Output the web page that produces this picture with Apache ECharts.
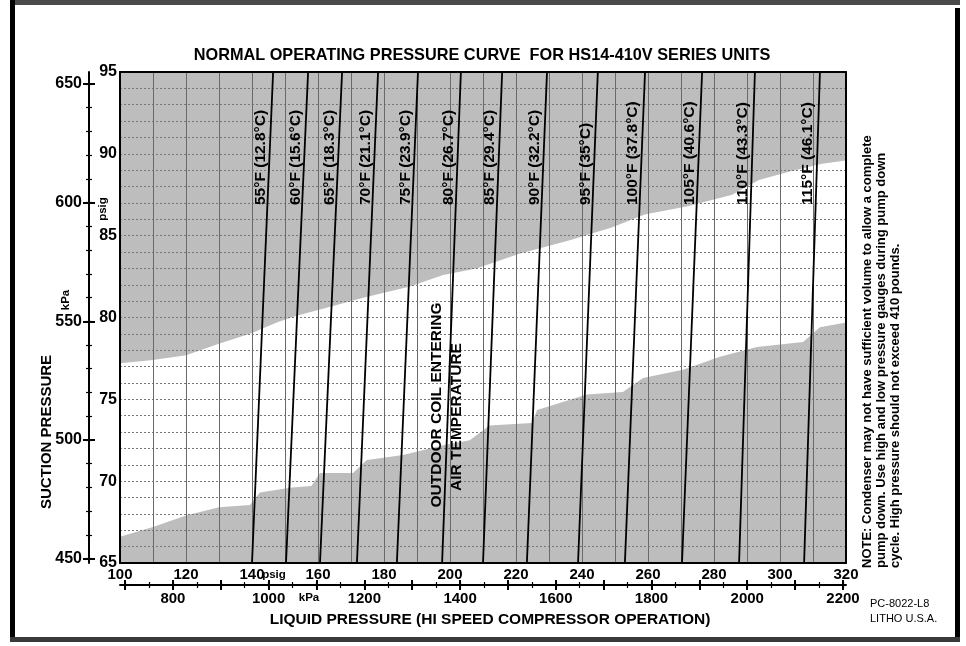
<!DOCTYPE html>
<html><head><meta charset="utf-8">
<script src="https://cdn.jsdelivr.net/npm/echarts@6/dist/echarts.min.js"></script>
<style>html,body{margin:0;padding:0;background:#fff}#c{width:966px;height:646px}</style>
</head><body><div id="c"></div>
<script>
// ---------- data ----------
const KPA_PER_PSI = 6.894757;
const chartTitle = 'NORMAL OPERATING PRESSURE CURVE  FOR HS14-410V SERIES UNITS';
const suctionRange = [65, 95];      // psig (y)
const liquidRange = [100, 320];     // psig (x)

const tempF = [55, 60, 65, 70, 75, 80, 85, 90, 95, 100, 105, 110, 115];
const tempC = ['12.8', '15.6', '18.3', '21.1', '23.9', '26.7', '29.4', '32.2', '35', '37.8', '40.6', '43.3', '46.1'];
// liquid pressure (psig) of each temperature line at suction 65 psig and at 95 psig
const liquidAtLowSuction  = [140.0, 150.3, 160.6, 171.8, 183.9, 197.6, 210.0, 223.3, 238.8, 253.0, 270.3, 287.6, 307.3];
const liquidAtHighSuction = [146.4, 157.0, 167.3, 178.2, 190.3, 203.3, 215.8, 229.4, 244.8, 259.1, 276.4, 292.4, 312.1];

// upper edge of the normal band (grey above it)
const upperLiquid  = [100, 110, 120, 130, 140, 147.5, 153.5, 162.6, 173.7, 187.9, 197.9, 208, 221, 236, 249, 259, 272, 285.5, 293.6, 302.7, 312.7, 320];
const upperSuction = [77.2, 77.4, 77.7, 78.4, 79.05, 79.7, 80.1, 80.6, 81.2, 81.9, 82.6, 83.0, 83.9, 84.7, 85.5, 86.3, 86.8, 87.5, 88.4, 88.9, 89.4, 89.6];
// lower edge of the normal band (grey below it)
const lowerLiquid  = [100, 110, 120, 130, 139.4, 142.4, 151.5, 158, 160.6, 170.6, 174.8, 185.8, 197.9, 206, 212, 224.8, 226.4, 241.5, 252.4, 258.5, 270.6, 281.8, 293, 307, 312.1, 320];
const lowerSuction = [66.6, 67.2, 67.9, 68.4, 68.55, 69.3, 69.6, 69.7, 70.5, 70.5, 71.3, 71.6, 72.2, 72.5, 73.4, 73.55, 74.35, 75.3, 75.45, 76.3, 76.8, 77.6, 78.2, 78.5, 79.4, 79.7];

// tick labels
const xPsigLabels = [100, 120, 140, 160, 180, 200, 220, 240, 260, 280, 300, 320];
const xKpaLabels = [800, 1000, 1200, 1400, 1600, 1800, 2000, 2200];
const yPsigLabels = [65, 70, 75, 80, 85, 90, 95];
const yKpaLabels = [450, 500, 550, 600, 650];

const noteLines = [
  'NOTE: Condenser may not have sufficient volume to allow a complete',
  'pump down. Use high and low pressure gauges during pump down',
  'cycle. High pressure should not exceed 410 pounds.'
];

// ---------- build ----------
const FONT = '"Liberation Sans", Arial, Helvetica, sans-serif';
const GRAY = '#bdbdbd';
function range(a, b, s) { const r = []; for (let v = a; v <= b + 1e-9; v += s) r.push(v); return r; }
const xKpaMajor = range(700, 2200, 100);
const xKpaMinor = range(700, 2200, 50);
const yKpaMajor = range(450, 650, 50);
const yKpaMinor = range(450, 650, 10);
const xKpaMin = liquidRange[0] * KPA_PER_PSI, xKpaMax = liquidRange[1] * KPA_PER_PSI;
const yKpaMin = suctionRange[0] * KPA_PER_PSI, yKpaMax = suctionRange[1] * KPA_PER_PSI;
const plain = (v) => String(Math.round(v));

const lbl = (size) => ({ fontFamily: FONT, fontWeight: 'bold', fontSize: size, color: '#000' });

function kpaX(extra) {
  return Object.assign({
    type: 'value', min: xKpaMin, max: xKpaMax, position: 'bottom', offset: 22, z: 3,
    splitLine: { show: false }, axisLine: { show: false, onZero: false },
    axisLabel: { show: false }, axisTick: { show: false }
  }, extra);
}
function kpaY(extra) {
  return Object.assign({
    type: 'value', min: yKpaMin, max: yKpaMax, position: 'left', offset: 31, z: 3,
    splitLine: { show: false }, axisLine: { show: false, onZero: false },
    axisLabel: { show: false }, axisTick: { show: false }
  }, extra);
}
const tickStyle = (w) => ({ color: '#000', width: w });

const xAxis = [
  { type: 'value', min: liquidRange[0], max: liquidRange[1], interval: 10, position: 'bottom', z: 3,
    axisLine: { show: true, onZero: false, lineStyle: { color: '#000', width: 2 } },
    axisTick: { show: false },
    axisLabel: Object.assign({ customValues: xPsigLabels, margin: 4, formatter: plain }, lbl(15)),
    splitLine: { show: true, lineStyle: { color: '#6a6a6a', width: 1 } } },
  { type: 'value', min: liquidRange[0], max: liquidRange[1], position: 'top', z: 3,
    axisLine: { show: true, onZero: false, lineStyle: { color: '#000', width: 2 } },
    axisTick: { show: false }, axisLabel: { show: false }, splitLine: { show: false } },
  kpaX({ axisLine: { show: true, onZero: false, lineStyle: { color: '#000', width: 2 } },
         axisTick: { show: true, customValues: xKpaMajor, length: 5, lineStyle: tickStyle(2) },
         axisLabel: Object.assign({ show: true, customValues: xKpaLabels, margin: 6, formatter: plain }, lbl(15)) }),
  kpaX({ axisTick: { show: true, inside: true, customValues: xKpaMajor, length: 5, lineStyle: tickStyle(2) } }),
  kpaX({ axisTick: { show: true, customValues: xKpaMinor, length: 3, lineStyle: tickStyle(1.2) } }),
  kpaX({ axisTick: { show: true, inside: true, customValues: xKpaMinor, length: 3, lineStyle: tickStyle(1.2) } })
];

const yAxis = [
  { type: 'value', min: suctionRange[0], max: suctionRange[1], interval: 1, position: 'left', z: 3,
    axisLine: { show: true, onZero: false, lineStyle: { color: '#000', width: 2 } },
    axisTick: { show: false },
    axisLabel: Object.assign({ customValues: yPsigLabels, margin: 3, formatter: plain }, lbl(16)),
    splitLine: { show: true, lineStyle: { color: '#777', width: 1, type: [2, 2] } } },
  { type: 'value', min: suctionRange[0], max: suctionRange[1], position: 'right', z: 3,
    axisLine: { show: true, onZero: false, lineStyle: { color: '#000', width: 2 } },
    axisTick: { show: false }, axisLabel: { show: false }, splitLine: { show: false } },
  kpaY({ axisLine: { show: true, onZero: false, lineStyle: { color: '#000', width: 2 } },
         axisTick: { show: true, customValues: yKpaMajor, length: 6, lineStyle: tickStyle(2) },
         axisLabel: Object.assign({ show: true, customValues: yKpaLabels, margin: 7, formatter: plain }, lbl(16)) }),
  kpaY({ axisTick: { show: true, inside: true, customValues: yKpaMajor, length: 6, lineStyle: tickStyle(2) } }),
  kpaY({ axisTick: { show: true, customValues: yKpaMinor, length: 3, lineStyle: tickStyle(1.2) } }),
  kpaY({ axisTick: { show: true, inside: true, customValues: yKpaMinor, length: 3, lineStyle: tickStyle(1.2) } })
];

const series = [
  { type: 'line', name: 'upper', data: upperLiquid.map((x, i) => [x, upperSuction[i]]),
    symbol: 'none', lineStyle: { width: 0 }, areaStyle: { color: GRAY, opacity: 1, origin: 'end' },
    z: 1, silent: true },
  { type: 'line', name: 'lower', data: lowerLiquid.map((x, i) => [x, lowerSuction[i]]),
    symbol: 'none', lineStyle: { width: 0 }, areaStyle: { color: GRAY, opacity: 1, origin: 'start' },
    z: 1, silent: true }
];
tempF.forEach((f, i) => {
  series.push({
    type: 'line', name: f + '°F',
    symbol: 'circle', symbolSize: 1, itemStyle: { color: 'rgba(0,0,0,0)' },
    lineStyle: { color: '#000', width: 1.8 }, z: 5, silent: true,
    label: { show: false },
    data: [
      [liquidAtLowSuction[i], suctionRange[0]],
      { value: [liquidAtHighSuction[i], suctionRange[1]],
        label: Object.assign({ show: true, formatter: f + '°F (' + tempC[i] + '°C)',
          position: 'inside', rotate: 90, align: 'left', verticalAlign: 'middle',
          offset: [-133, -12] }, lbl(15.5)) }
    ]
  });
});

const rotText = (text, x, y, size, align, vAlign, weight) => ({
  type: 'text', x: x, y: y, rotation: Math.PI / 2, z: 50,
  style: { text: text, fill: '#000', font: (weight || 'bold') + ' ' + size + 'px ' + FONT,
    textAlign: align || 'center', textVerticalAlign: vAlign || 'middle' }
});
const flatText = (text, x, y, size, align, weight) => ({
  type: 'text', x: x, y: y, z: 50,
  style: { text: text, fill: '#000', font: (weight || 'bold') + ' ' + size + 'px ' + FONT,
    textAlign: align || 'center', textVerticalAlign: 'middle' }
});

const noteText = rotText(noteLines.join('\n'), 860, 568, 13, 'left', 'top', 'bold');
noteText.style.lineHeight = 14;

const graphic = [
  // frame of the sheet
  { type: 'rect', shape: { x: 10, y: 0, width: 950, height: 5 }, style: { fill: '#4a4a4a' }, z: 40 },
  { type: 'rect', shape: { x: 10, y: 0, width: 5, height: 642 }, style: { fill: '#000' }, z: 40 },
  { type: 'rect', shape: { x: 955, y: 8, width: 5, height: 634 }, style: { fill: '#000' }, z: 40 },
  { type: 'rect', shape: { x: 10, y: 637, width: 950, height: 5 }, style: { fill: '#3a3a3a' }, z: 40 },
  rotText('SUCTION PRESSURE', 47, 432, 15),
  rotText('psig', 103, 209, 11.5),
  rotText('kPa', 66, 300, 11.5),
  flatText('psig', 274, 575, 11.5),
  flatText('kPa', 309, 598, 11.5),
  flatText('LIQUID PRESSURE (HI SPEED COMPRESSOR OPERATION)', 490, 620, 15.5),
  rotText('OUTDOOR COIL ENTERING', 437, 405, 15.5),
  rotText('AIR TEMPERATURE', 457, 417, 15.5),
  noteText,
  flatText('PC-8022-L8', 870, 604, 11, 'left', 'normal'),
  flatText('LITHO U.S.A.', 870, 619, 11, 'left', 'normal')
];

const chart = echarts.init(document.getElementById('c'), null, { renderer: 'canvas' });
chart.setOption({
  animation: false,
  backgroundColor: '#fff',
  title: { text: chartTitle, left: 477, textAlign: 'center', top: 43,
    textStyle: { fontFamily: FONT, fontWeight: 'bold', fontSize: 16.3, color: '#000' } },
  grid: { left: 120, right: 120, top: 72, bottom: 83, containLabel: false, outerBoundsMode: 'none' },
  xAxis: xAxis,
  yAxis: yAxis,
  series: series,
  graphic: graphic
});
</script></body></html>
